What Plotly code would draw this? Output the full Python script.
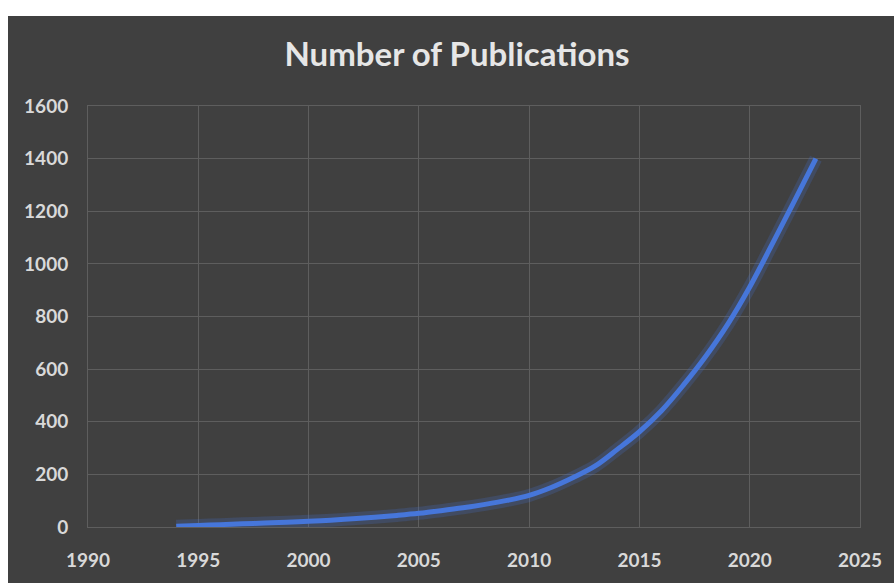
import plotly.graph_objects as go

years = list(range(1994, 2024))
publications = [3, 6, 9, 12, 15, 18, 22, 26, 31, 37, 44, 52, 62, 73, 86, 101,
                120, 150, 188, 232, 295, 362, 442, 540, 648, 770, 912, 1072, 1235, 1400]
x_ticks = [1990, 1995, 2000, 2005, 2010, 2015, 2020, 2025]
y_ticks = [0, 200, 400, 600, 800, 1000, 1200, 1400, 1600]
title = "Number of Publications"

W, H = 894, 583
L, R, T, B = 88, 34, 106, 51
pw, ph = W - L - R, H - T - B

fig = go.Figure()
# soft glow under the line
fig.add_trace(go.Scatter(x=years, y=publications, mode="lines",
                         line=dict(color="rgba(70,115,215,0.22)", width=13, shape="spline", smoothing=1.0),
                         hoverinfo="skip", showlegend=False))
fig.add_trace(go.Scatter(x=years, y=publications, mode="lines",
                         line=dict(color="#4676DA", width=5, shape="spline", smoothing=1.0),
                         showlegend=False))

bg = "#404040"
grid = "#5e5e5e"
tickfont = dict(family="Lato", size=19, color="#d9d9d9", weight="bold")

fig.update_layout(
    width=W, height=H,
    margin=dict(l=L, r=R, t=T, b=B),
    paper_bgcolor="white",
    plot_bgcolor=bg,
    title=dict(text="<b>" + title + "</b>", x=(457 - L) / pw, xref="paper",
               y=1 - 54 / H, yref="container", xanchor="center", yanchor="middle",
               font=dict(family="Lato", size=33, color="#e6e6e6")),
    shapes=[dict(type="rect", xref="paper", yref="paper",
                 x0=(8 - L) / pw, x1=1.2, y0=-0.3, y1=(H - B - 15) / ph,
                 fillcolor=bg, line=dict(width=0), layer="below")],
    xaxis=dict(range=[1990, 2025], tickvals=x_ticks, ticktext=[str(v) for v in x_ticks],
               showgrid=True, gridcolor=grid, gridwidth=1, zeroline=False,
               showline=True, linecolor=grid, mirror=True,
               ticks="outside", ticklen=16, tickcolor="rgba(0,0,0,0)",
               tickfont=tickfont),
    yaxis=dict(range=[0, 1600], tickvals=y_ticks, ticktext=[str(v) for v in y_ticks],
               showgrid=True, gridcolor=grid, gridwidth=1, zeroline=False,
               showline=True, linecolor=grid, mirror=True,
               ticks="outside", ticklen=15, tickcolor="rgba(0,0,0,0)",
               tickfont=tickfont),
)

fig.write_html("out.html")
